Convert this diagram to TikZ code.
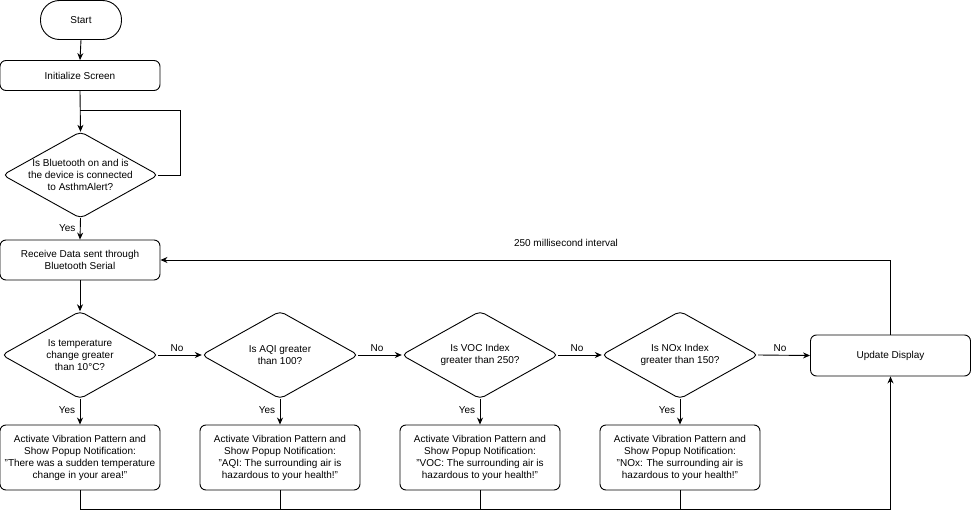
\documentclass[tikz,border=0pt]{standalone}
\usepackage{fontspec}
\setmainfont{Liberation Sans}
\usetikzlibrary{arrows.meta}
\begin{document}
\begin{tikzpicture}[x=1pt,y=-1pt,
  every node/.style={font=\fontsize{10}{12}\selectfont, align=center},
  box/.style={draw, line width=0.9pt, rounded corners=6pt, minimum width=160pt, inner sep=0pt},
  dia/.style={minimum width=156pt, minimum height=87pt, inner sep=0pt},
  diaedge/.style={draw, line width=0.9pt, rounded corners=5pt},
  conn/.style={line width=0.9pt},
  arr/.style={line width=0.9pt, -{Stealth[length=7pt,width=6pt]}},
  lbl/.style={font=\fontsize{10}{12}\selectfont}
]
\useasboundingbox (0,0) rectangle (972,519);

\node[box, minimum width=81pt, minimum height=39pt, rounded corners=19pt] (start) at (81,20) {Start};
\node[box, minimum height=30pt] (init) at (80,75.5) {Initialize Screen};
\node[dia, minimum width=155pt, minimum height=86pt] (bt) at (80.5,175) {Is Bluetooth on and is\\the device is connected\\to AsthmAlert?};
\draw[diaedge] (bt.north) -- (bt.east) -- (bt.south) -- (bt.west) -- cycle;
\node[box, minimum height=40pt] (recv) at (80,260) {Receive Data sent through\\Bluetooth Serial};

\node[dia] (d1) at (80,355) {Is temperature\\change greater\\than 10°C?};
\node[dia] (d2) at (280,355) {Is AQI greater\\than 100?};
\node[dia] (d3) at (480,355) {Is VOC Index\\greater than 250?};
\node[dia] (d4) at (680,355) {Is NOx Index\\greater than 150?};
\foreach \d in {d1,d2,d3,d4}{
  \draw[diaedge] (\d.north) -- (\d.east) -- (\d.south) -- (\d.west) -- cycle;
}
\node[box, minimum height=41pt] (upd) at (890.5,355.5) {Update Display};

\node[box, minimum height=65pt] (a1) at (80,457.5) {Activate Vibration Pattern and\\Show Popup Notification:\\"There was a sudden temperature\\change in your area!"};
\node[box, minimum height=65pt] (a2) at (280,457.5) {Activate Vibration Pattern and\\Show Popup Notification:\\"AQI: The surrounding air is\\hazardous to your health!"};
\node[box, minimum height=65pt] (a3) at (480,457.5) {Activate Vibration Pattern and\\Show Popup Notification:\\"VOC: The surrounding air is\\hazardous to your health!"};
\node[box, minimum height=65pt] (a4) at (680,457.5) {Activate Vibration Pattern and\\Show Popup Notification:\\"NOx: The surrounding air is\\hazardous to your health!"};

\coordinate (lp) at (80,110);
\coordinate (bl) at (80,509);
\coordinate (tr) at (890.5,260);

\draw[arr] (start.south) -- (init.north);
\draw[arr] (init.south) -- (bt.north);
\draw[conn] (bt.east) -- (180,175) |- (lp);
\draw[arr] (bt.south) -- node[lbl, left, pos=0.45, xshift=-1pt] {Yes} (recv.north);
\draw[arr] (recv.south) -- (d1.north);

\draw[arr] (d1.east) -- node[lbl, above, xshift=-3pt] {No} (d2.west);
\draw[arr] (d2.east) -- node[lbl, above, xshift=-3pt] {No} (d3.west);
\draw[arr] (d3.east) -- node[lbl, above, xshift=-3pt] {No} (d4.west);
\draw[arr] (d4.east) -- node[lbl, above, xshift=-4pt] {No} (upd.west);

\foreach \d/\a in {d1/a1,d2/a2,d3/a3,d4/a4}{
  \draw[arr] (\d.south) -- node[lbl, left, pos=0.45, xshift=-1pt] {Yes} (\a.north);
}
\foreach \a in {a1,a2,a3}{
  \draw[conn] (\a.south) -- (\a.south |- bl);
}
\draw[arr] (a4.south) -- (a4.south |- bl) -- (bl) -| (upd.south);
\draw[conn] (a1.south) -- (bl) -- (a4.south |- bl);
\draw[arr] (upd.north) -- (tr) -- (recv.east);
\node[lbl] (iv) at (566,243) {250 millisecond interval};
\end{tikzpicture}
\end{document}
